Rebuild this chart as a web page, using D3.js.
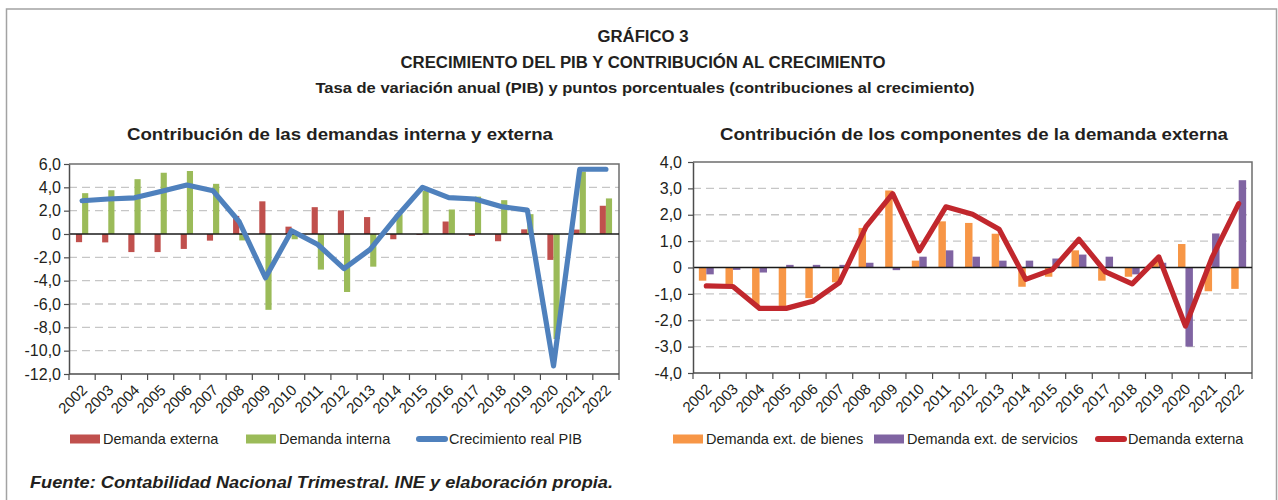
<!DOCTYPE html>
<html>
<head>
<meta charset="utf-8">
<script src="https://cdn.jsdelivr.net/npm/d3@7"></script>
<style>
  body { margin: 0; background: #fff; }
  svg { display: block; font-family: 'Liberation Sans', Arial, Helvetica, sans-serif; }
</style>
</head>
<body>
<div id="vis"></div>
<script>
// Datos
var years = ['2002', '2003', '2004', '2005', '2006', '2007', '2008', '2009', '2010', '2011',
  '2012', '2013', '2014', '2015', '2016', '2017', '2018', '2019', '2020', '2021', '2022'];

var demExterna = [-0.7, -0.72, -1.55, -1.55, -1.28, -0.57, 1.55, 2.8, 0.63, 2.3,
  2.02, 1.45, -0.45, -0.08, 1.07, -0.17, -0.62, 0.4, -2.22, 0.38, 2.42];
var demInterna = [3.5, 3.75, 4.7, 5.25, 5.4, 4.3, -0.55, -6.5, -0.45, -3.05,
  -4.97, -2.8, 1.7, 3.7, 2.1, 3.2, 2.9, 1.7, -9.0, 5.35, 3.05];
var pibReal = [2.85, 3.0, 3.1, 3.65, 4.2, 3.7, 1.05, -3.75, 0.28, -0.9,
  -2.97, -1.32, 1.45, 4.0, 3.12, 3.0, 2.35, 2.05, -11.3, 5.55, 5.55];

var extBienes = [-0.5, -0.69, -1.44, -1.46, -1.16, -0.56, 1.5, 2.92, 0.26, 1.75,
  1.69, 1.28, -0.73, -0.35, 0.65, -0.5, -0.35, 0.22, 0.89, -0.9, -0.81];
var extServicios = [-0.26, -0.09, -0.19, 0.1, 0.1, 0.1, 0.18, -0.1, 0.41, 0.65,
  0.41, 0.26, 0.26, 0.34, 0.49, 0.41, -0.26, 0.18, -3.0, 1.29, 3.31];

var leftTicks = [6, 4, 2, 0, -2, -4, -6, -8, -10, -12];
var rightTicks = [4, 3, 2, 1, 0, -1, -2, -3, -4];

var width = 1278;
var height = 500;

var esLocale = d3.formatLocale({ decimal: ',', thousands: '.', grouping: [3], currency: ['', ' €'], minus: '-' });
var fmt1 = esLocale.format('.1f');
function tickFmt(d) { return d === 0 ? '0' : fmt1(d); }

var svg = d3.select('#vis').append('svg')
  .attr('width', width)
  .attr('height', height);

// marco exterior
svg.append('rect')
  .attr('x', 6.5).attr('y', 9)
  .attr('width', 1270).attr('height', 520)
  .attr('fill', 'none')
  .attr('stroke', '#a3a3a3')
  .attr('stroke-width', 1.5);

function addText(x, y, txt, size, weight, style, anchor, len) {
  var t = svg.append('text')
    .attr('x', x).attr('y', y)
    .attr('text-anchor', anchor || 'middle')
    .style('font-size', size + 'px')
    .style('font-weight', weight || 'normal')
    .style('font-style', style || 'normal')
    .style('fill', '#231f20')
    .text(txt);
  if (len) {
    t.attr('textLength', len).attr('lengthAdjust', 'spacingAndGlyphs');
  }
  return t;
}

addText(643, 42, 'GRÁFICO 3', 16, 'bold', null, null, 91);
addText(643, 68, 'CRECIMIENTO DEL PIB Y CONTRIBUCIÓN AL CRECIMIENTO', 16, 'bold', null, null, 485);
addText(645, 93, 'Tasa de variación anual (PIB) y puntos porcentuales (contribuciones al crecimiento)', 15, 'bold', null, null, 659);
addText(30, 488, 'Fuente: Contabilidad Nacional Trimestral. INE y elaboración propia.', 17, 'bold', 'italic', 'start', 583);

function panel(cfg) {
  var g = svg.append('g');

  var x = d3.scaleBand()
    .domain(years)
    .range([cfg.x0, cfg.x1]);

  var y = d3.scaleLinear()
    .domain([cfg.ticks[cfg.ticks.length - 1], cfg.ticks[0]])
    .range([cfg.y1, cfg.y0]);

  var cx = function (d) { return x(d) + x.bandwidth() / 2; };

  addText(cfg.titleX, 140, cfg.title, 17, 'bold', null, null, cfg.titleLen);

  // lineas de division
  g.selectAll('.grid')
    .data(cfg.ticks.filter(function (t, i) { return t !== 0 && i > 0 && i < cfg.ticks.length - 1; }))
    .enter().append('line')
    .attr('x1', cfg.x0).attr('x2', cfg.x1)
    .attr('y1', function (d) { return y(d); })
    .attr('y2', function (d) { return y(d); })
    .attr('stroke', '#c6c6c6')
    .attr('stroke-width', 1.4)
    .attr('stroke-dasharray', '8,5');

  // borde superior y derecho
  g.append('path')
    .attr('d', 'M' + cfg.x0 + ',' + y(cfg.ticks[0]) + 'H' + cfg.x1 + 'V' + cfg.y1)
    .attr('fill', 'none')
    .attr('stroke', '#6d6d6d')
    .attr('stroke-width', 1.5);

  // barras
  var bw = x.bandwidth() * cfg.barFrac;
  cfg.bars.forEach(function (s, k) {
    g.selectAll('.bar' + k)
      .data(years)
      .enter().append('rect')
      .attr('x', function (d) { return cx(d) + (k === 0 ? -bw : 0); })
      .attr('width', bw)
      .attr('y', function (d, i) { return y(Math.max(0, s.values[i])); })
      .attr('height', function (d, i) { return Math.abs(y(s.values[i]) - y(0)); })
      .attr('fill', s.color);
  });

  // eje cero
  g.append('line')
    .attr('x1', cfg.x0).attr('x2', cfg.x1)
    .attr('y1', y(0)).attr('y2', y(0))
    .attr('stroke', '#1a1a1a')
    .attr('stroke-width', 1.3);

  // linea
  var line = d3.line()
    .x(function (d) { return cx(d); })
    .y(function (d, i) { return y(cfg.line.values[i]); });

  g.append('path')
    .datum(years)
    .attr('d', line)
    .attr('fill', 'none')
    .attr('stroke', cfg.line.color)
    .attr('stroke-width', 5.2)
    .attr('stroke-linejoin', 'round')
    .attr('stroke-linecap', 'round');

  // eje Y
  var yAxis = g.append('g')
    .attr('transform', 'translate(' + cfg.x0 + ',0)')
    .call(d3.axisLeft(y).tickValues(cfg.ticks).tickSize(5).tickSizeOuter(0).tickPadding(cfg.yPad).tickFormat(tickFmt));
  yAxis.select('.domain').attr('stroke', '#4d4d4d').attr('stroke-width', 1.5);
  yAxis.selectAll('.tick line').attr('stroke', '#4d4d4d').attr('stroke-width', 1.2);
  yAxis.selectAll('.tick text')
    .style('font-size', cfg.yFont + 'px')
    .style('font-family', "'Liberation Sans', Arial, sans-serif")
    .attr('fill', '#231f20');

  // eje X
  g.append('line')
    .attr('x1', cfg.x0).attr('x2', cfg.x1)
    .attr('y1', cfg.y1).attr('y2', cfg.y1)
    .attr('stroke', '#4d4d4d')
    .attr('stroke-width', 1.5);

  var edges = years.map(function (d) { return x(d); }).concat([cfg.x1]);
  g.selectAll('.xtick')
    .data(edges)
    .enter().append('line')
    .attr('x1', function (d) { return d; })
    .attr('x2', function (d) { return d; })
    .attr('y1', cfg.y1).attr('y2', cfg.y1 + 6)
    .attr('stroke', '#4d4d4d')
    .attr('stroke-width', 1.2);

  g.selectAll('.xlab')
    .data(years)
    .enter().append('text')
    .attr('transform', function (d) {
      return 'translate(' + (cx(d) + 6) + ',' + (cfg.y1 + 17) + ') rotate(-45)';
    })
    .attr('text-anchor', 'end')
    .style('font-size', '15px')
    .style('fill', '#231f20')
    .text(function (d) { return d; });

  // leyenda
  var ly = 439;
  cfg.legend.forEach(function (l) {
    if (l.type === 'bar') {
      g.append('rect')
        .attr('x', l.x).attr('y', ly - 4.5)
        .attr('width', 30).attr('height', 9)
        .attr('fill', l.color);
    } else {
      g.append('line')
        .attr('x1', l.x + 3).attr('x2', l.x + 29)
        .attr('y1', ly).attr('y2', ly)
        .attr('stroke', l.color)
        .attr('stroke-width', 6)
        .attr('stroke-linecap', 'round');
    }
    g.append('text')
      .attr('x', l.x + 33).attr('y', ly + 5)
      .style('font-size', '14.5px')
      .style('fill', '#231f20')
      .text(l.label);
  });
}

panel({
  x0: 69, x1: 619, y0: 164, y1: 374,
  ticks: leftTicks,
  title: 'Contribución de las demandas interna y externa',
  titleX: 340, titleLen: 426,
  barFrac: 0.235,
  yPad: 3, yFont: 16,
  bars: [
    { values: demExterna, color: '#c0504d' },
    { values: demInterna, color: '#9bbb59' }
  ],
  line: { values: pibReal, color: '#4f81bd' },
  legend: [
    { x: 70, type: 'bar', color: '#c0504d', label: 'Demanda externa' },
    { x: 246, type: 'bar', color: '#9bbb59', label: 'Demanda interna' },
    { x: 416, type: 'line', color: '#4f81bd', label: 'Crecimiento real PIB' }
  ]
});

panel({
  x0: 693, x1: 1252, y0: 162, y1: 373,
  ticks: rightTicks,
  title: 'Contribución de los componentes de la demanda externa',
  titleX: 974, titleLen: 508,
  barFrac: 0.28,
  yPad: 6, yFont: 16,
  bars: [
    { values: extBienes, color: '#f79646' },
    { values: extServicios, color: '#8064a2' }
  ],
  line: { values: demExterna, color: '#c1272d' },
  legend: [
    { x: 673, type: 'bar', color: '#f79646', label: 'Demanda ext. de bienes' },
    { x: 874, type: 'bar', color: '#8064a2', label: 'Demanda ext. de servicios' },
    { x: 1095, type: 'line', color: '#c1272d', label: 'Demanda externa' }
  ]
});
</script>
</body>
</html>
